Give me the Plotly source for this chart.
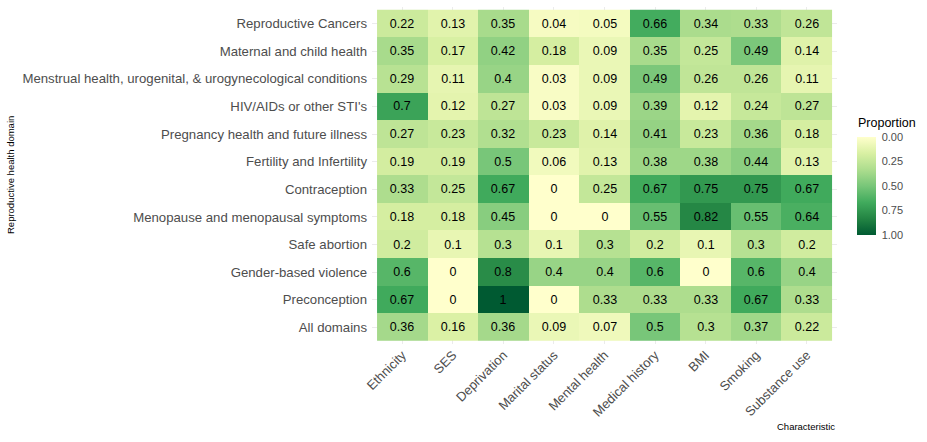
import plotly.graph_objects as go

characteristics = ["Ethnicity", "SES", "Deprivation", "Marital status", "Mental health",
                   "Medical history", "BMI", "Smoking", "Substance use"]

domains = ["Reproductive Cancers", "Maternal and child health",
           "Menstrual health, urogenital, & urogynecological conditions",
           "HIV/AIDs or other STI's", "Pregnancy health and future illness",
           "Fertility and Infertility", "Contraception",
           "Menopause and menopausal symptoms", "Safe abortion",
           "Gender-based violence", "Preconception", "All domains"]

reproductive_cancers = [0.22, 0.13, 0.35, 0.04, 0.05, 0.66, 0.34, 0.33, 0.26]
maternal_child = [0.35, 0.17, 0.42, 0.18, 0.09, 0.35, 0.25, 0.49, 0.14]
menstrual = [0.29, 0.11, 0.4, 0.03, 0.09, 0.49, 0.26, 0.26, 0.11]
hiv_sti = [0.7, 0.12, 0.27, 0.03, 0.09, 0.39, 0.12, 0.24, 0.27]
pregnancy = [0.27, 0.23, 0.32, 0.23, 0.14, 0.41, 0.23, 0.36, 0.18]
fertility = [0.19, 0.19, 0.5, 0.06, 0.13, 0.38, 0.38, 0.44, 0.13]
contraception = [0.33, 0.25, 0.67, 0, 0.25, 0.67, 0.75, 0.75, 0.67]
menopause = [0.18, 0.18, 0.45, 0, 0, 0.55, 0.82, 0.55, 0.64]
safe_abortion = [0.2, 0.1, 0.3, 0.1, 0.3, 0.2, 0.1, 0.3, 0.2]
gender_violence = [0.6, 0, 0.8, 0.4, 0.4, 0.6, 0, 0.6, 0.4]
preconception = [0.67, 0, 1, 0, 0.33, 0.33, 0.33, 0.67, 0.33]
all_domains = [0.36, 0.16, 0.36, 0.09, 0.07, 0.5, 0.3, 0.37, 0.22]

z = [reproductive_cancers, maternal_child, menstrual, hiv_sti, pregnancy, fertility,
     contraception, menopause, safe_abortion, gender_violence, preconception, all_domains]
text = [[f"{v:g}" for v in row] for row in z]

legend_ticks = [0.0, 0.25, 0.5, 0.75, 1.0]

ylgn = ["#ffffcc", "#d9f0a3", "#addd8e", "#78c679", "#41ab5d", "#238443", "#005a32"]
scale = [[i / (len(ylgn) - 1), c] for i, c in enumerate(ylgn)]
scale_rev = [[i / (len(ylgn) - 1), c] for i, c in enumerate(reversed(ylgn))]

font_family = "Liberation Sans, Arial, sans-serif"

L, R, T, B = 372, 90, 7, 98
W, H = 927, 442
pw, ph = W - L - R, H - T - B

fig = go.Figure()
fig.add_trace(go.Heatmap(
    x=characteristics, y=domains, z=z, text=text, texttemplate="%{text}",
    textfont=dict(size=12.5, color="black", family=font_family),
    colorscale=scale, zmin=0, zmax=1, showscale=False, xgap=0, ygap=0,
))
# colorbar with 0 at top (reversed legend)
fig.add_trace(go.Scatter(
    x=[characteristics[0]], y=[domains[0]], mode="markers",
    marker=dict(size=0.1, opacity=0, color=[-legend_ticks[0]], colorscale=scale_rev,
                cmin=-1, cmax=0, showscale=True,
                colorbar=dict(
                    x=(857 - L) / pw, xanchor="left", xref="paper",
                    y=(H - B - 137) / ph, yanchor="top",
                    len=98, lenmode="pixels", thickness=19, thicknessmode="pixels",
                    outlinewidth=0, ticks="outside", ticklen=4,
                    tickcolor="rgba(0,0,0,0)", tickvals=[-v for v in legend_ticks],
                    ticktext=[f"{v:.2f}" for v in legend_ticks],
                    tickfont=dict(size=11, color="#4d4d4d", family=font_family),
                    ypad=0, xpad=0,
                )),
    hoverinfo="skip", showlegend=False,
))

fig.update_layout(
    width=W, height=H,
    margin=dict(l=L, r=R, t=T, b=B, autoexpand=False),
    plot_bgcolor="white", paper_bgcolor="white",
    font=dict(family=font_family, color="#4d4d4d"),
    xaxis=dict(range=[-0.6, 8.6], tickangle=-45, showgrid=True, gridcolor="#ebebeb",
               gridwidth=1, zeroline=False, ticks="", tickfont=dict(size=13, color="#4d4d4d"),
               categoryorder="array", categoryarray=characteristics, showline=False,
               automargin=False),
    yaxis=dict(range=[11.6, -0.6], showgrid=True, gridcolor="#ebebeb", gridwidth=1,
               zeroline=False, ticks="", tickfont=dict(size=13.2, color="#4d4d4d"),
               categoryorder="array", categoryarray=domains, showline=False,
               ticklabelstandoff=4, automargin=False),
    annotations=[
        dict(text="Reproductive health domain", xref="paper", yref="paper",
             x=-L / pw, xanchor="left", y=0.5, yanchor="middle", textangle=-90,
             showarrow=False, font=dict(size=9.5, color="black"), xshift=3),
        dict(text="Characteristic", xref="paper", yref="paper", x=1, xanchor="right",
             y=0, yanchor="top", yshift=-75, showarrow=False,
             font=dict(size=9.5, color="black")),
        dict(text="Proportion", xref="paper", yref="paper", x=(856 - L) / pw,
             xanchor="left", y=(H - B - 123) / ph, yanchor="middle", showarrow=False,
             font=dict(size=12.5, color="black")),
    ],
)

fig.write_html("out.html", config={"displayModeBar": False},
               post_script="document.body.style.margin='0px';")
